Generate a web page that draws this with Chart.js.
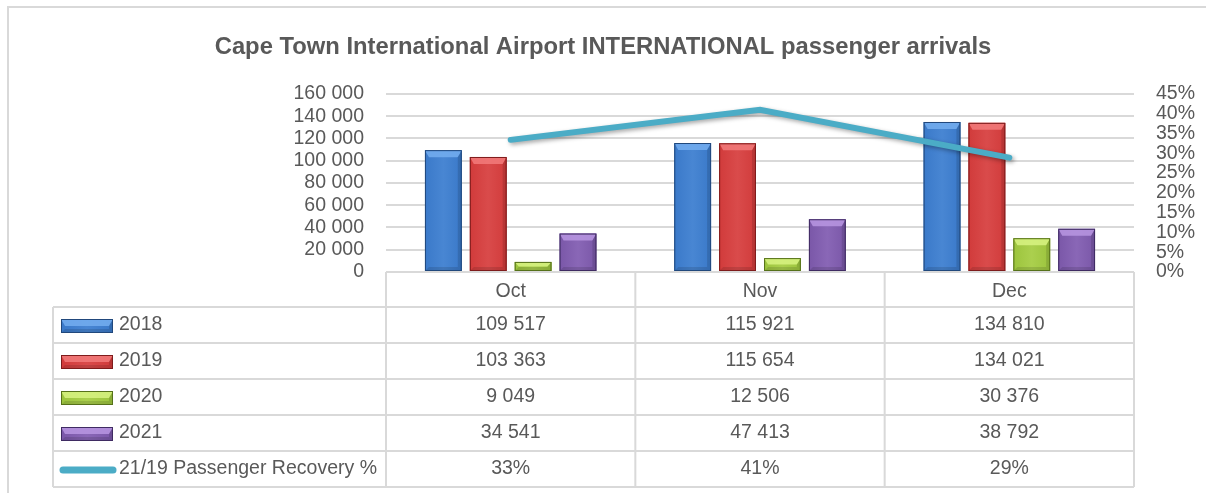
<!DOCTYPE html>
<html>
<head>
<meta charset="utf-8">
<script src="https://cdn.jsdelivr.net/npm/chart.js@4.4.0/dist/chart.umd.min.js"></script>
<style>
  body { margin: 0; background: #fff; }
  #wrap { position: relative; width: 1206px; height: 493px; }
</style>
</head>
<body>
<div id="wrap"><canvas id="arrivalsChart" width="1206" height="493"></canvas></div>
<script>
// data
const months = ['Oct', 'Nov', 'Dec'];
const arrivals2018 = [109517, 115921, 134810];
const arrivals2019 = [103363, 115654, 134021];
const arrivals2020 = [9049, 12506, 30376];
const arrivals2021 = [34541, 47413, 38792];
const recoveryPct = [33.4, 41.0, 28.9];
const countTicks = [0, 20000, 40000, 60000, 80000, 100000, 120000, 140000, 160000];
const pctTicks = [0, 5, 10, 15, 20, 25, 30, 35, 40, 45];

const FONT = '"Liberation Sans", Arial, sans-serif';
const TEXT = '#595959';
const GRID = '#d9d9d9';

const fmt = v => String(v).replace(/\B(?=(\d{3})+(?!\d))/g, ' ');

const bevel = {
  '2018': { base: '#3a79c9', light: '#74aef0', dark: '#21487c' },
  '2019': { base: '#d13b3b', light: '#f27b7b', dark: '#7e1c1c' },
  '2020': { base: '#9cc43d', light: '#d8f382', dark: '#56711a' },
  '2021': { base: '#7a57a8', light: '#b897e2', dark: '#3f2b62' }
};

function barSet(label, data) {
  return {
    type: 'bar', label, data, yAxisID: 'y', order: 1,
    backgroundColor: bevel[label].base, borderColor: bevel[label].dark, borderWidth: 1,
    barPercentage: 0.82, categoryPercentage: 0.72
  };
}

function drawBevelBar(ctx, left, top, right, bottom, c) {
  const h = bottom - top;
  const bt = Math.min(7, h / 2), bs = Math.min(4, h / 2);
  const g = ctx.createLinearGradient(left, 0, right, 0);
  g.addColorStop(0, c.base);
  g.addColorStop(0.5, c.light);
  g.addColorStop(1, c.base);
  ctx.fillStyle = c.base;
  ctx.fillRect(left, top, right - left, h);
  ctx.globalAlpha = 0.25;
  ctx.fillStyle = g;
  ctx.fillRect(left, top, right - left, h);
  ctx.globalAlpha = 0.85;
  ctx.fillStyle = c.light;
  ctx.beginPath();
  ctx.moveTo(left, top); ctx.lineTo(right, top); ctx.lineTo(right - bs, top + bt); ctx.lineTo(left + bs, top + bt);
  ctx.fill();
  ctx.globalAlpha = 0.12;
  ctx.fillStyle = '#000000';
  ctx.beginPath();
  ctx.moveTo(right, top); ctx.lineTo(right - bs, top + bt); ctx.lineTo(right - bs, bottom - bs); ctx.lineTo(right, bottom);
  ctx.fill();
  ctx.beginPath();
  ctx.moveTo(left, bottom); ctx.lineTo(left + bs, bottom - bs); ctx.lineTo(right - bs, bottom - bs); ctx.lineTo(right, bottom);
  ctx.fill();
  ctx.globalAlpha = 1;
  ctx.strokeStyle = c.dark;
  ctx.lineWidth = 1;
  ctx.strokeRect(left + 0.5, top + 0.5, right - left - 1, h - 1);
}

const bevelPlugin = {
  id: 'bevel',
  beforeDatasetDraw(chart, args) {
    if (chart.data.datasets[args.index].type !== 'line') return;
    const ctx = chart.ctx;
    ctx.save();
    ctx.shadowColor = 'rgba(0,0,0,0.35)';
    ctx.shadowBlur = 4;
    ctx.shadowOffsetX = 2;
    ctx.shadowOffsetY = 2;
  },
  afterDatasetDraw(chart, args) {
    const ds = chart.data.datasets[args.index];
    const ctx = chart.ctx;
    if (ds.type === 'line') { ctx.restore(); return; }
    ctx.save();
    args.meta.data.forEach(bar => {
      const p = bar.getProps(['x', 'y', 'base', 'width'], true);
      drawBevelBar(ctx, p.x - p.width / 2, p.y, p.x + p.width / 2, p.base, bevel[ds.label]);
    });
    ctx.restore();
  }
};

const tablePlugin = {
  id: 'dataTable',
  beforeDraw(chart) {
    const ctx = chart.ctx;
    ctx.save();
    ctx.strokeStyle = GRID;
    ctx.lineWidth = 2;
    ctx.beginPath();
    ctx.moveTo(8, 493); ctx.lineTo(8, 7); ctx.lineTo(1206, 7);
    ctx.stroke();
    ctx.restore();
  },
  afterDraw(chart) {
    const ctx = chart.ctx;
    const area = chart.chartArea;
    const xs = chart.scales.x;
    const step = (area.right - area.left) / months.length;
    const tableLeft = 53, rowTop = 307, rowH = 36;
    const rows = chart.data.datasets.length;
    const bottom = rowTop + rowH * rows;
    ctx.save();
    ctx.strokeStyle = GRID;
    ctx.lineWidth = 2;
    ctx.beginPath();
    for (let r = 0; r <= rows; r++) {
      ctx.moveTo(tableLeft, rowTop + r * rowH);
      ctx.lineTo(area.right, rowTop + r * rowH);
    }
    ctx.moveTo(tableLeft, rowTop); ctx.lineTo(tableLeft, bottom);
    for (let i = 0; i < months.length; i++) {
      const bx = xs.getPixelForValue(i) - step / 2;
      ctx.moveTo(bx, area.bottom); ctx.lineTo(bx, bottom);
    }
    ctx.moveTo(area.right, area.bottom); ctx.lineTo(area.right, bottom);
    ctx.stroke();

    ctx.font = '19.5px ' + FONT;
    ctx.textBaseline = 'middle';
    chart.data.datasets.forEach((ds, r) => {
      const cy = rowTop + r * rowH + rowH / 2;
      if (ds.type === 'bar') {
        drawBevelBar(ctx, 61, cy - 6, 113, cy + 8, bevel[ds.label]);
      } else {
        ctx.strokeStyle = ds.borderColor;
        ctx.lineWidth = 7;
        ctx.lineCap = 'round';
        ctx.beginPath();
        ctx.moveTo(63, cy + 1); ctx.lineTo(113, cy + 1);
        ctx.stroke();
      }
      ctx.fillStyle = TEXT;
      ctx.textAlign = 'left';
      ctx.fillText(ds.label, 119, cy);
      ctx.textAlign = 'center';
      ds.data.forEach((v, i) => {
        const txt = ds.type === 'bar' ? fmt(v) : Math.round(v) + '%';
        ctx.fillText(txt, xs.getPixelForValue(i), cy);
      });
    });
    ctx.restore();
  }
};

new Chart(document.getElementById('arrivalsChart'), {
  data: {
    labels: months,
    datasets: [
      barSet('2018', arrivals2018),
      barSet('2019', arrivals2019),
      barSet('2020', arrivals2020),
      barSet('2021', arrivals2021),
      {
        type: 'line', label: '21/19 Passenger Recovery %', data: recoveryPct, yAxisID: 'y1', order: 0,
        borderColor: '#4bacc6', borderWidth: 6, borderCapStyle: 'round', pointRadius: 0, tension: 0
      }
    ]
  },
  options: {
    responsive: false,
    animation: false,
    layout: { padding: 0 },
    plugins: {
      legend: { display: false },
      tooltip: { enabled: false },
      title: {
        display: true,
        text: 'Cape Town International Airport INTERNATIONAL passenger arrivals',
        color: TEXT,
        font: { family: FONT, size: 23.8, weight: 'bold' },
        padding: { top: 33, bottom: 32.4 }
      }
    },
    scales: {
      x: {
        grid: { display: false },
        border: { display: false },
        ticks: { color: TEXT, font: { family: FONT, size: 19.5 }, padding: 0 },
        afterFit: s => { s.height = 221; }
      },
      y: {
        position: 'left',
        min: countTicks[0], max: countTicks[countTicks.length - 1],
        afterBuildTicks: s => { s.ticks = countTicks.map(v => ({ value: v })); },
        grid: { color: GRID, lineWidth: 2, drawTicks: false },
        border: { display: false },
        ticks: { color: TEXT, font: { family: FONT, size: 19.5 }, padding: 22, autoSkip: false, callback: v => fmt(v) },
        afterFit: s => { s.width = 386; }
      },
      y1: {
        position: 'right',
        min: pctTicks[0], max: pctTicks[pctTicks.length - 1],
        afterBuildTicks: s => { s.ticks = pctTicks.map(v => ({ value: v })); },
        grid: { display: false, drawTicks: false },
        border: { display: false },
        ticks: { color: TEXT, font: { family: FONT, size: 19.5 }, padding: 22, autoSkip: false, callback: v => v + '%' },
        afterFit: s => { s.width = 72; }
      }
    }
  },
  plugins: [bevelPlugin, tablePlugin]
});
</script>
</body>
</html>
